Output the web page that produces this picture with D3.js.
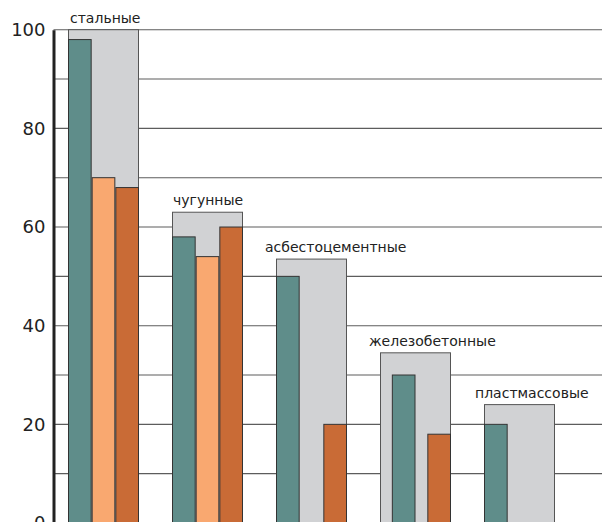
<!DOCTYPE html>
<html><head><meta charset="utf-8">
<script src="https://cdn.jsdelivr.net/npm/d3@7"></script>
<style>html,body{margin:0;padding:0;background:#fff;}svg{display:block;}</style>
</head><body>
<svg id="chart" width="602" height="522"></svg>
<script>
const categories = ["стальные", "чугунные", "асбестоцементные", "железобетонные", "пластмассовые"];
const totals = [100, 63, 53.5, 34.5, 24];
const series1 = [98, 58, 50, 30, 20];
const series2 = [70, 54, null, null, null];
const series3 = [68, 60, 20, 18, null];
const yTicks = [0, 20, 40, 60, 80, 100];
const gridValues = [10, 20, 30, 40, 50, 60, 70, 80, 90, 100];

const colors = ["#5f8d8a", "#f9a870", "#c96b36"];
const labelDx = [2, 1, -11, -11, -9];
const seriesShift = {"железобетонные": [0.5, 0, 0]};

const svg = d3.select("#chart");
const W = 602, H = 522;
const axisX = 53.5;

const y = d3.scaleLinear().domain([0, 100]).range([523, 29.7]);
const x = d3.scaleBand().domain(categories).range([68, 555]).paddingInner(33/104).paddingOuter(0);
const sub = d3.scaleBand().domain([0, 1, 2]).range([0, x.bandwidth()]);

// gridlines
svg.append("g").selectAll("line").data(gridValues).join("line")
  .attr("x1", axisX).attr("x2", W)
  .attr("y1", d => y(d)).attr("y2", d => y(d))
  .attr("stroke", "#5c5c5c").attr("stroke-width", 1.1);

// gray group backgrounds
svg.append("g").selectAll("rect").data(categories).join("rect")
  .attr("x", d => x(d) + 0.5)
  .attr("y", (d, i) => y(totals[i]))
  .attr("width", x.bandwidth() - 1)
  .attr("height", (d, i) => y(0) - y(totals[i]) + 5)
  .attr("fill", "#d1d2d4").attr("stroke", "#555").attr("stroke-width", 1);

// bars
const allSeries = [series1, series2, series3];
allSeries.forEach((s, si) => {
  const data = categories.map((c, i) => ({c, v: s[i]})).filter(d => d.v != null);
  svg.append("g").selectAll("rect").data(data).join("rect")
    .attr("x", d => x(d.c) + sub(si) + ((seriesShift[d.c] || [0,0,0])[si]) * sub.bandwidth() + 0.5)
    .attr("y", d => y(d.v))
    .attr("width", sub.bandwidth() - 1)
    .attr("height", d => y(0) - y(d.v) + 5)
    .attr("fill", colors[si]).attr("stroke", "#333").attr("stroke-width", 1);
});

// category labels
svg.append("g").selectAll("text").data(categories).join("text")
  .attr("x", (d, i) => x(d) + labelDx[i])
  .attr("y", (d, i) => y(totals[i]) - 7)
  .attr("font-family", "DejaVu Sans, Verdana, sans-serif")
  .attr("font-size", 14).attr("fill", "#222")
  .text(d => d);

// y axis
const axis = d3.axisLeft(y).tickValues(yTicks).tickSize(0).tickPadding(8);
const ag = svg.append("g").attr("transform", `translate(${axisX},0)`).call(axis);
ag.select(".domain").attr("stroke", "#222").attr("stroke-width", 3);
ag.selectAll("text").attr("font-family", "DejaVu Sans, Verdana, sans-serif")
  .attr("font-size", 18).attr("fill", "#222");
</script>
</body></html>
